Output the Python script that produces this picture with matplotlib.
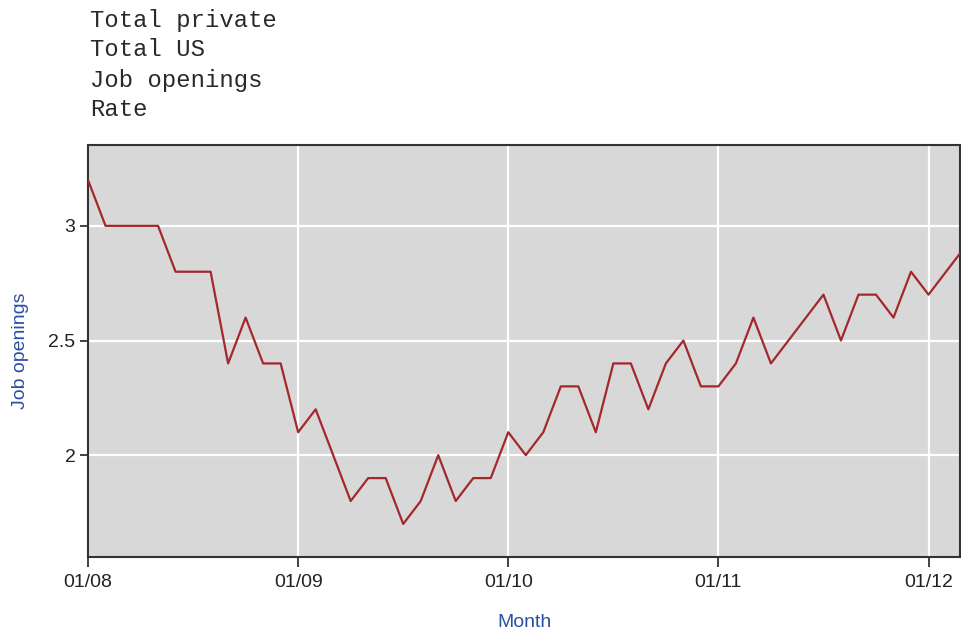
import numpy as np
import matplotlib
matplotlib.use('Agg')
import matplotlib.pyplot as plt

##### data: job openings rate, total private, monthly from 01/2008
rate = [3.2, 3.0, 3.0, 3.0, 3.0, 2.8, 2.8, 2.8, 2.4, 2.6, 2.4, 2.4,   # 2008
        2.1, 2.2, 2.0, 1.8, 1.9, 1.9, 1.7, 1.8, 2.0, 1.8, 1.9, 1.9,   # 2009
        2.1, 2.0, 2.1, 2.3, 2.3, 2.1, 2.4, 2.4, 2.2, 2.4, 2.5, 2.3,   # 2010
        2.3, 2.4, 2.6, 2.4, 2.5, 2.6, 2.7, 2.5, 2.7, 2.7, 2.6, 2.8,   # 2011
        2.7, 2.8, 2.9]                                                # 2012
tick_pos = [0, 12, 24, 36, 48]
tick_labels = ['01/08', '01/09', '01/10', '01/11', '01/12']
y_ticks = [2, 2.5, 3]
y_tick_labels = ['2', '2.5', '3']
header = ['Total private', 'Total US', 'Job openings', 'Rate']

months = np.arange(len(rate))

plt.rcParams['font.family'] = ['Liberation Sans', 'DejaVu Sans']

##### plotting
fig = plt.figure(figsize=[9.61, 6.31], dpi=100)
ax = fig.add_axes([0.0916, 0.1173, 0.9074, 0.6527])

ax.set_facecolor('#d8d8d8')
ax.plot(months, rate, color='#a3282c', lw=1.6, zorder=3)

ax.set_xlim(0, 49.8)
ax.set_ylim(1.556, 3.352)
ax.set_xticks(tick_pos)
ax.set_xticklabels(tick_labels)
ax.set_yticks(y_ticks)
ax.set_yticklabels(y_tick_labels)
ax.grid(True, color='white', lw=1.6)
ax.set_axisbelow(True)

ax.tick_params(axis='x', length=7.5, width=1.2, pad=5, labelsize=14, colors='#222222')
ax.tick_params(axis='y', length=6, width=1.2, pad=3, labelsize=14, colors='#222222')
for s in ax.spines.values():
    s.set_color('#333333')
    s.set_linewidth(1.5)

ax.set_xlabel('Month', color='#2b4fa3', fontsize=14, labelpad=16)
ax.set_ylabel('Job openings', color='#2b4fa3', fontsize=14, labelpad=14)

# header lines in typewriter font
for i, line in enumerate(header):
    fig.text(90 / 961, 1 - (20 + 30 * i) / 631, line, family='Liberation Mono',
             fontsize=17.2, va='center', ha='left', color='#2a2a2a')

plt.savefig('out.png', dpi=100)
